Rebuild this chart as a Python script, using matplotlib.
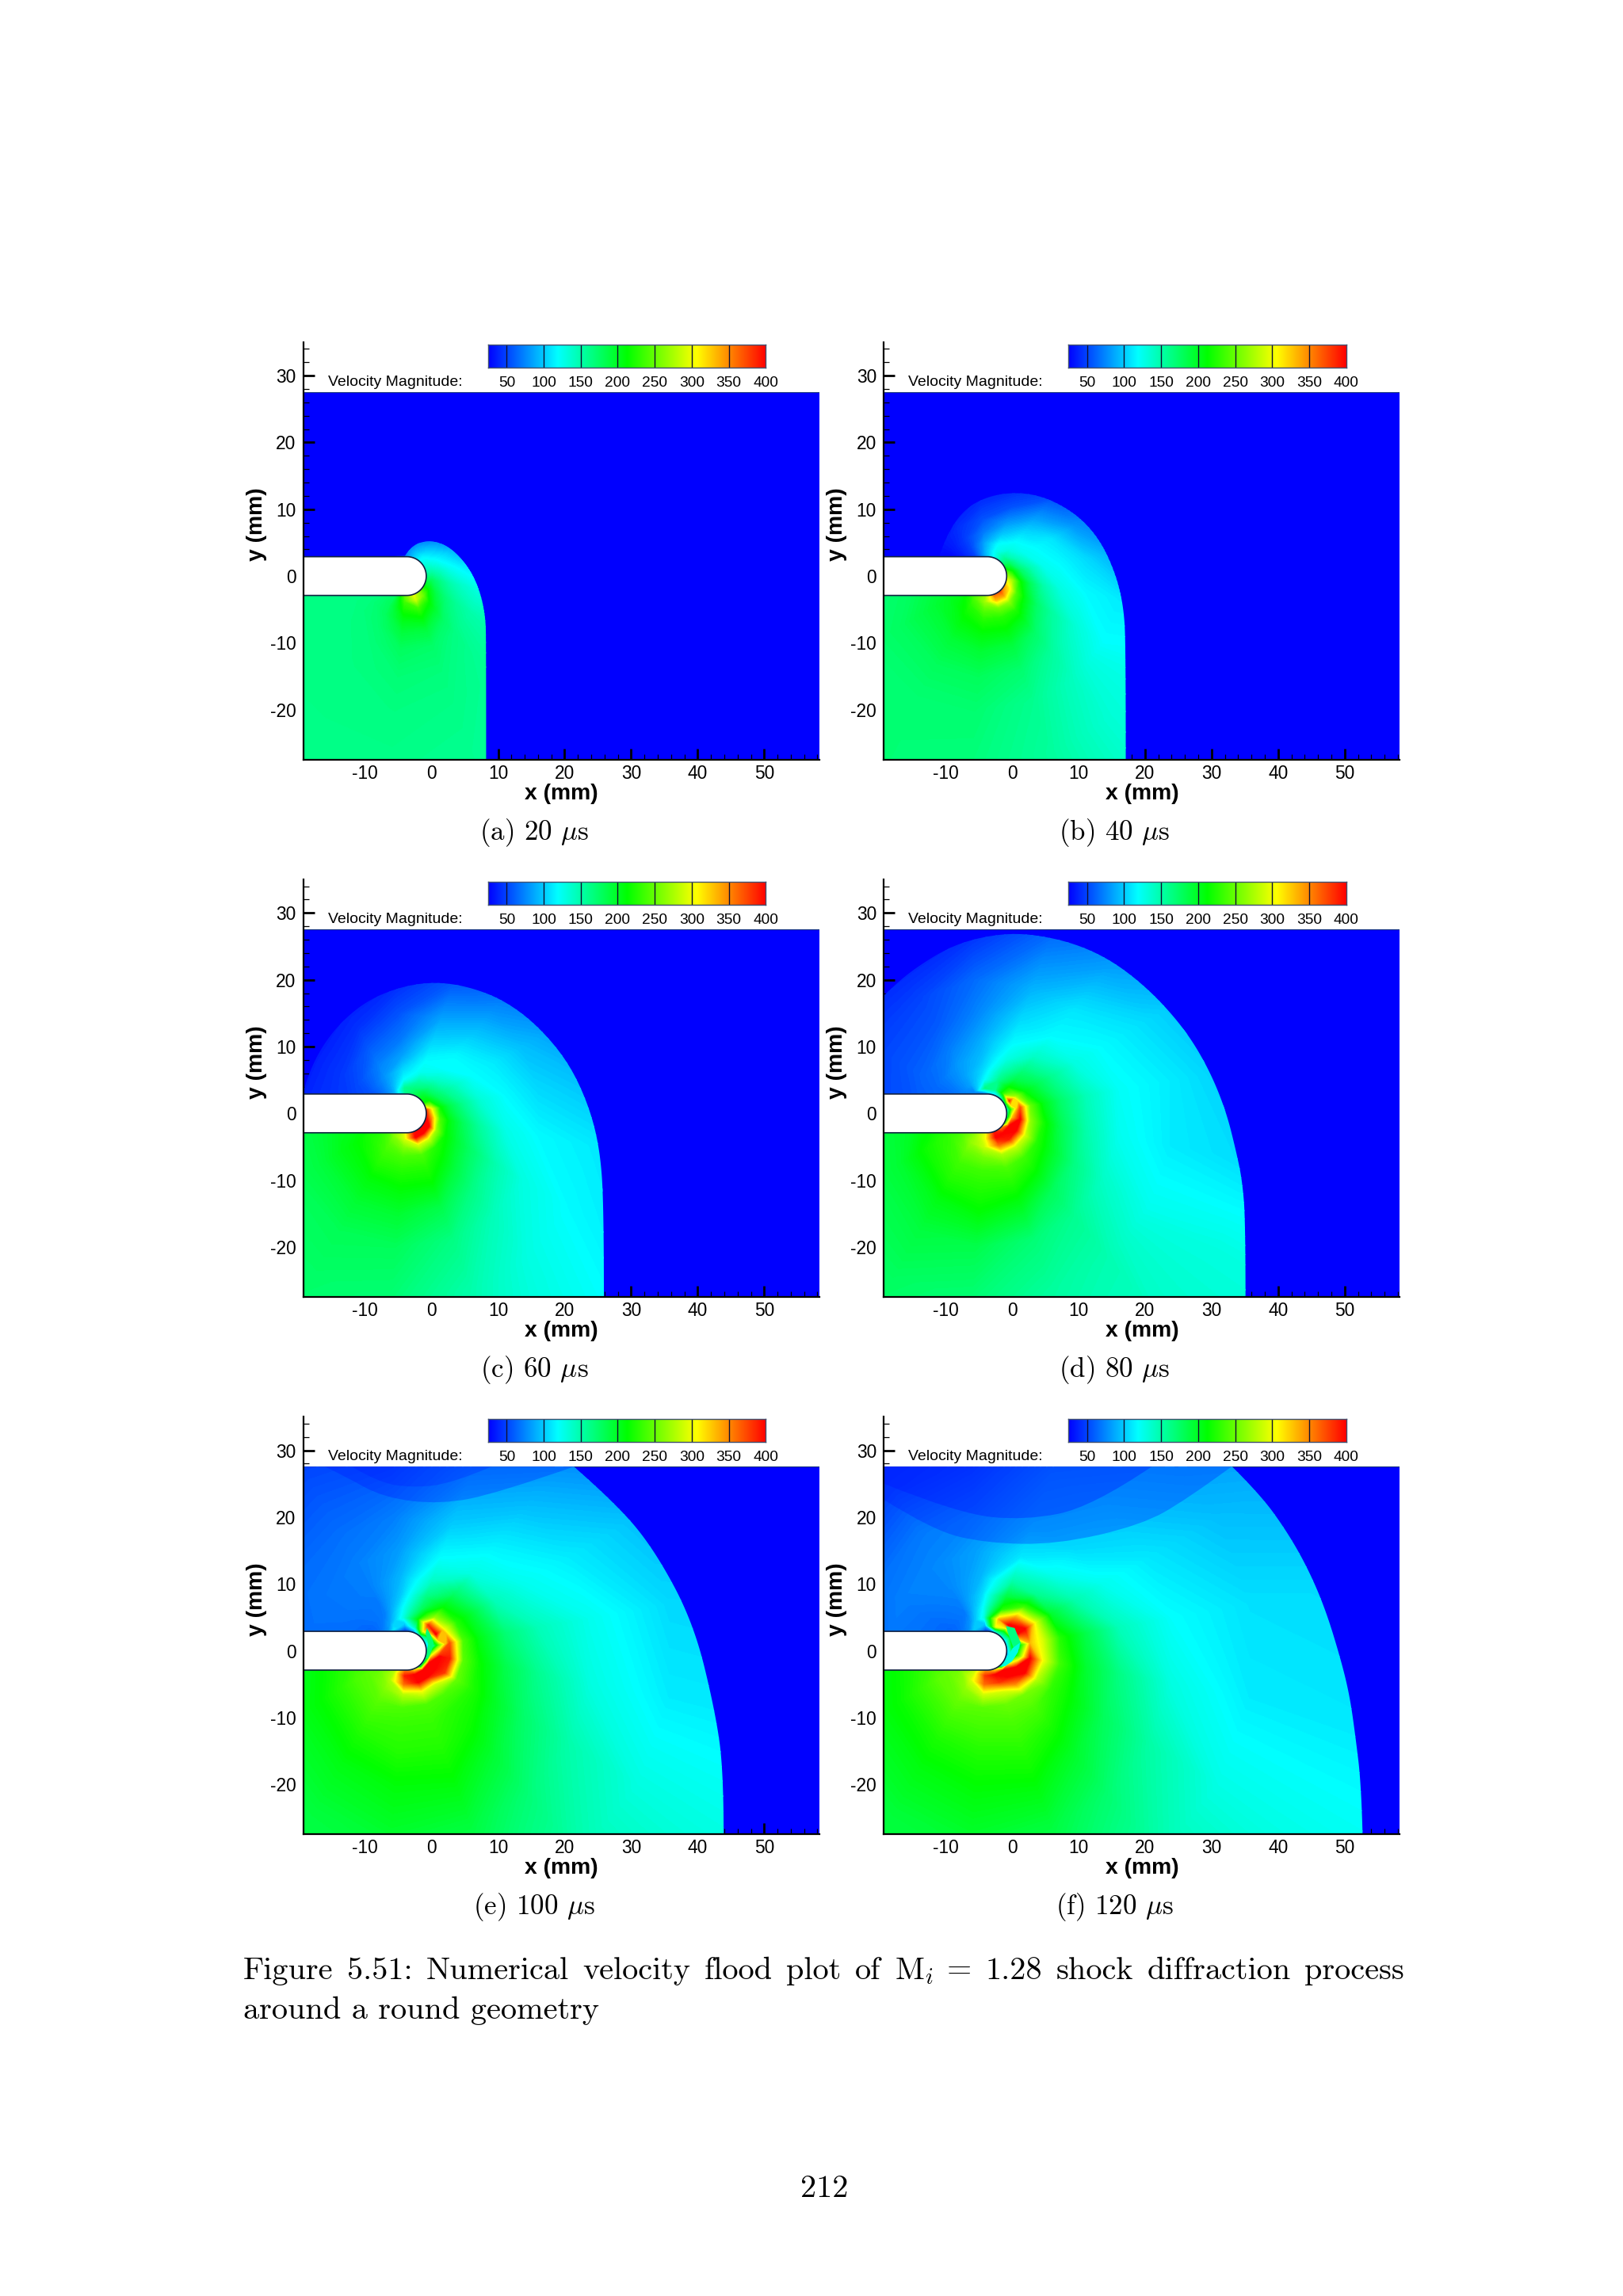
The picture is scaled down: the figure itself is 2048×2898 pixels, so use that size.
import numpy as np
import matplotlib
matplotlib.use("Agg")
import matplotlib.pyplot as plt
from matplotlib.colors import LinearSegmentedColormap
from matplotlib.path import Path
from matplotlib.patches import PathPatch, Polygon, Rectangle

W, H = 2048, 2898
plt.rcParams['font.family'] = ['Liberation Sans', 'DejaVu Sans']
plt.rcParams['axes.unicode_minus'] = False
plt.rcParams['mathtext.fontset'] = 'cm'

CAPTIONS = ["(a) 20 $\\mu$s", "(b) 40 $\\mu$s", "(c) 60 $\\mu$s",
            "(d) 80 $\\mu$s", "(e) 100 $\\mu$s", "(f) 120 $\\mu$s"]
CBAR_TICKS = [50, 100, 150, 200, 250, 300, 350, 400]
VMIN, VMAX = 25, 400

# polar sampling nodes about the round tip: ray angle (deg), ring radius (mm)
RAYS = [-180, -150, -120, -95, -70, -50, -30, -10, 10, 30, 50, 70, 95, 120, 150, 180]
RINGS = [2.9, 3.8, 5, 6.5, 8.5, 11, 15, 20, 28, 40, 85]

# velocity magnitude: one line per ray, one column per ring
V_A = [[165,165,165,165,165,165,165,165,163,163,163],
       [165,165,165,166,166,165,165,165,163,163,163],
       [178,178,180,178,172,168,166,165,163,163,163],
       [250,235,220,205,190,178,170,166,163,163,163],
       [300,285,235,212,190,175,168,164,160,160,160],
       [260,250,215,195,175,165,160,158,155,155,155],
       [210,205,185,170,158,150,148,150,150,150,150],
       [180,178,165,150,138,128,125,125,125,125,125],
       [150,150,140,125,112,100,95,90,90,90,90],
       [135,130,118,105,85,60,45,30,30,30,30],
       [120,115,100,80,60,35,30,30,30,30,30],
       [100,95,80,60,35,30,30,30,30,30,30],
       [70,70,40,28,25,25,25,25,25,25,25],
       [30,30,25,25,25,25,25,25,25,25,25],
       [25,25,25,25,25,25,25,25,25,25,25],
       [25,25,25,25,25,25,25,25,25,25,25]]
V_B = [[185,185,185,185,185,178,172,170,170,170,170],
       [200,200,200,200,195,188,178,172,170,170,170],
       [240,240,225,215,205,192,180,172,170,170,170],
       [270,270,245,225,210,195,180,172,168,168,168],
       [360,330,255,225,210,190,172,160,155,155,155],
       [375,340,265,225,200,175,155,142,135,135,135],
       [340,310,240,205,175,155,135,120,125,125,125],
       [300,270,215,180,150,130,118,112,110,110,110],
       [250,215,175,150,125,118,105,85,80,80,80],
       [190,175,145,125,118,110,80,60,40,40,40],
       [150,150,130,120,105,85,55,35,30,30,30],
       [120,125,120,100,80,55,35,28,25,25,25],
       [90,90,85,70,55,42,28,25,25,25,25],
       [50,50,50,48,42,32,28,25,25,25,25],
       [28,28,28,28,30,28,26,25,25,25,25],
       [25,25,25,25,26,26,26,25,25,25,25]]
V_C = [[200,200,200,200,200,198,190,182,176,175,175],
       [220,220,220,220,212,205,190,180,175,172,172],
       [260,260,245,235,225,210,195,182,175,170,170],
       [300,290,260,238,225,212,195,180,170,165,165],
       [390,400,290,240,225,212,185,165,150,140,140],
       [400,400,290,225,210,190,165,145,130,125,125],
       [400,400,270,215,195,175,150,130,118,110,110],
       [400,340,240,205,180,155,128,118,112,105,105],
       [380,300,215,185,160,135,118,105,95,85,85],
       [220,210,180,160,140,120,112,95,75,50,50],
       [200,190,165,140,120,118,100,78,50,35,35],
       [180,170,150,125,118,105,85,60,35,30,30],
       [160,160,120,105,85,70,55,38,25,25,25],
       [90,90,85,80,72,60,42,32,25,25,25],
       [55,55,55,55,52,46,38,28,25,25,25],
       [48,48,48,48,46,44,40,30,25,25,25]]
V_D = [[205,205,205,205,205,200,192,182,176,172,172],
       [230,230,230,230,225,215,195,185,178,172,172],
       [265,265,265,250,235,225,205,190,178,170,170],
       [300,300,285,255,235,225,210,185,170,155,155],
       [390,400,360,275,240,225,200,170,155,145,145],
       [350,400,390,285,235,215,180,160,148,140,140],
       [200,400,400,290,225,200,165,140,125,130,130],
       [140,330,400,265,220,185,150,125,112,105,105],
       [120,250,370,250,205,175,145,122,112,95,95],
       [130,380,270,210,185,160,130,118,105,85,85],
       [120,230,215,185,165,140,118,110,85,60,60],
       [100,160,165,150,130,118,105,90,65,40,40],
       [60,165,118,105,95,88,75,65,38,30,30],
       [75,75,85,85,82,72,58,50,30,28,28],
       [65,65,65,65,65,62,55,48,38,30,30],
       [58,58,58,60,58,56,52,48,42,35,30]]
V_E = [[225,225,225,225,225,218,205,195,185,180,178],
       [245,245,245,245,240,228,212,200,188,182,178],
       [280,280,275,260,245,235,220,205,190,182,178],
       [350,390,360,280,240,232,225,210,195,182,178],
       [300,400,400,300,240,232,225,212,190,170,165],
       [120,400,400,290,240,225,215,195,170,150,145],
       [100,400,400,380,250,225,200,175,150,130,128],
       [100,300,400,390,245,215,185,160,130,112,110],
       [100,130,250,370,240,205,170,145,125,105,95],
       [120,170,400,300,225,195,145,125,112,95,70],
       [130,300,380,265,210,175,130,115,95,70,50],
       [70,150,210,180,165,140,118,100,80,55,40],
       [40,90,130,118,100,92,82,72,55,40,30],
       [50,110,85,72,70,72,72,66,55,38,30],
       [60,60,60,62,66,68,68,65,55,40,30],
       [55,55,55,58,60,62,65,62,52,40,30]]
V_F = [[230,230,230,230,230,222,210,200,190,182,178],
       [250,250,250,250,245,232,215,203,190,182,178],
       [290,290,290,265,250,238,222,208,192,183,178],
       [340,380,360,290,245,238,225,212,196,182,178],
       [300,400,380,290,250,240,228,214,190,170,165],
       [90,400,400,350,255,240,220,198,172,150,145],
       [80,300,400,400,280,230,208,180,152,128,125],
       [80,150,260,400,300,235,195,165,130,112,108],
       [90,200,200,330,290,225,185,145,120,108,100],
       [100,170,400,400,290,195,150,125,110,95,70],
       [120,200,400,340,235,160,125,105,95,80,55],
       [60,300,330,225,190,150,110,95,85,65,40],
       [40,90,130,120,105,92,85,75,55,42,30],
       [70,100,80,70,72,75,75,70,50,38,30],
       [62,62,62,62,65,68,72,65,48,38,30],
       [55,55,55,58,62,65,68,60,48,38,30]]
FIELDS = [V_A, V_B, V_C, V_D, V_E, V_F]

# shock front outlines (mm)
FRONT_A_X = [8.2, 8.2, 8.1, 7.2, 5.5, 2.6, -0.3, -3.0, -4.0]
FRONT_A_Y = [-27.5, -10, -6, -2, 1.5, 4.5, 5.4, 4.6, 3.0]
FRONT_B_X = [17.1, 17.1, 16.8, 15.6, 13.2, 9.7, 4.9, 0.35, -4.2, -7.7, -10.2, -10.9]
FRONT_B_Y = [-27.5, -10.5, -4.7, 0.3, 5.5, 9.3, 11.9, 12.6, 11.8, 9.5, 5.3, 3.0]
FRONT_C_X = [25.9, 25.9, 25.3, 23.6, 20.5, 15.8, 10.8, 5.5, 0.45, -4.5, -9.5, -13.5, -16.5, -18.5, -19.25]
FRONT_C_Y = [-27.5, -13.7, -5.3, 1.3, 7.8, 13.3, 17.0, 19.0, 19.7, 19.0, 17.0, 13.8, 10.0, 5.9, 3.4]
FRONT_D_X = [35.1, 35.1, 34.6, 33.7, 32.2, 29.8, 26.6, 22.6, 18.6, 14.67, 10.5, 6.0, 0.85, -4.2, -9.2, -14.2, -17.7, -19.25]
FRONT_D_Y = [-27.5, -16, -10, -5.7, 0.26, 6.2, 11.7, 16.5, 20.2, 23.0, 25.0, 26.3, 27.0, 26.5, 25.0, 22.0, 19.2, 17.6]
FRONT_E_X = [43.9, 43.9, 42.6, 39.4, 33.7, 28.0, 21.4]
FRONT_E_Y = [-27.5, -18, -8.9, 4.1, 14.8, 21.8, 27.55]
FRONT_F_X = [52.7, 52.5, 51.6, 50.8, 49.6, 47.2, 44.5, 41.3, 37.3, 33.1]
FRONT_F_Y = [-27.5, -20, -12.6, -7.0, -1.9, 6.0, 12.3, 17.9, 23.4, 27.55]
FRONTS = [(FRONT_A_X, FRONT_A_Y), (FRONT_B_X, FRONT_B_Y), (FRONT_C_X, FRONT_C_Y),
          (FRONT_D_X, FRONT_D_Y), (FRONT_E_X, FRONT_E_Y), (FRONT_F_X, FRONT_F_Y)]

# reflected wave at the upper boundary: low-speed cap outlines (mm), outer and inner
CAP_E_X = [21.4, 10.0, 1.4, -7.2, -13.0, -16.0]
CAP_E_Y = [27.55, 23.6, 21.9, 22.9, 26.1, 27.55]
CORE_E_X = [9.0, 3.0, -3.0, -8.0, -12.0]
CORE_E_Y = [27.55, 25.0, 24.4, 25.2, 27.55]
CAP_F_X = [33.0, 26.2, 19.4, 6.8, -3.9, -11.9, -19.25]
CAP_F_Y = [27.55, 22.6, 18.8, 15.9, 16.1, 18.0, 22.6]
CORE_F_X = [21.0, 12.0, 2.0, -8.0, -19.25]
CORE_F_Y = [27.55, 21.5, 19.5, 20.5, 25.0]
CAPS = [[], [], [], [], [(CAP_E_X, CAP_E_Y, 0.3), (CORE_E_X, CORE_E_Y, 0.25)],
        [(CAP_F_X, CAP_F_Y, 0.3), (CORE_F_X, CORE_F_Y, 0.35)]]

# low-speed streaks hugging the tip: outline (mm) and speed
STREAK_E = ([-0.7, -0.1, 0.3, 0.0, -0.6, -0.9, -0.5, -0.9], [3.4, 2.3, 1.2, 0.0, -1.3, -0.9, 1.0, 2.6], 170)
STREAK_F1 = ([-0.9, 0.4, 1.3, 1.1, 0.2, -0.7], [3.7, 3.4, 1.2, 0.2, 0.5, 2.9], 165)
STREAK_F2 = ([1.2, 0.9, 0.0, -1.0, -1.7, -0.7, 0.1], [1.2, -0.2, -1.6, -2.3, -2.4, -1.0, 0.4], 130)
STREAKS = [[], [], [], [], [STREAK_E], [STREAK_F1, STREAK_F2]]

XLIM = (-19.25, 58.3)
YLIM = (-27.5, 35.0)
FIELD_TOP = 27.55
TIP_X, BODY_R = -3.7, 2.9

cmap = LinearSegmentedColormap.from_list(
    "rainbow5", ["#0000ff", "#00ffff", "#00ff00", "#ffff00", "#ff0000"], N=512)
levels = np.linspace(VMIN, VMAX, 190)


def px_axes(x0, y0, x1, y1):
    return fig.add_axes([x0 / W, 1 - y1 / H, (x1 - x0) / W, (y1 - y0) / H])


def smooth_open(xs, ys):
    verts = [(xs[0], ys[0])]
    codes = [Path.MOVETO]
    for i in range(1, len(xs) - 1):
        end = (xs[i + 1], ys[i + 1]) if i == len(xs) - 2 else \
              ((xs[i] + xs[i + 1]) / 2, (ys[i] + ys[i + 1]) / 2)
        verts += [(xs[i], ys[i]), end]
        codes += [Path.CURVE3, Path.CURVE3]
    return verts, codes


def front_path(xs, ys):
    verts, codes = smooth_open(xs, ys)
    verts += [(XLIM[0], ys[-1]), (XLIM[0], YLIM[0]), (xs[0], YLIM[0]), (xs[0], ys[0])]
    codes += [Path.LINETO, Path.LINETO, Path.LINETO, Path.CLOSEPOLY]
    return Path(np.array(verts), codes)


def cap_path(xs, ys):
    verts, codes = smooth_open(xs, ys)
    if ys[-1] < FIELD_TOP:
        verts += [(XLIM[0], FIELD_TOP)]
        codes += [Path.LINETO]
    verts += [(xs[0], ys[0])]
    codes += [Path.CLOSEPOLY]
    return Path(np.array(verts), codes)


def flat(path, fine=20):
    # clip paths are rasterised from their vertices, so curves are flattened first
    out = [path.vertices[0]]
    i = 1
    v, c = path.vertices, path.codes
    while i < len(v):
        if c[i] == Path.CURVE3:
            p0, p1, p2 = out[-1], v[i], v[i + 1]
            for t in np.linspace(0, 1, fine)[1:]:
                out.append((1 - t) ** 2 * p0 + 2 * t * (1 - t) * p1 + t ** 2 * p2)
            i += 2
        else:
            out.append(v[i])
            i += 1
    return Path(np.array(out), closed=True)


def body_path():
    a = np.radians(np.linspace(-90, 90, 61))
    xs = np.r_[XLIM[0], TIP_X + BODY_R * np.cos(a), XLIM[0]]
    ys = np.r_[-BODY_R, BODY_R * np.sin(a), BODY_R]
    return xs, ys


fig = plt.figure(figsize=(W / 200, H / 200), dpi=200, facecolor="white")

for k in range(6):
    col, row = k % 2, k // 2
    dx, dy = col * 732.4, row * 678.2
    ax = px_axes(383 + dx, 432 + dy, 1034 + dx, 959 + dy)
    ax.set_xlim(*XLIM)
    ax.set_ylim(*YLIM)
    ax.add_patch(Rectangle((XLIM[0], YLIM[0]), XLIM[1] - XLIM[0], FIELD_TOP - YLIM[0],
                           fc="#0000ff", ec="none", zorder=1))
    ax.plot(XLIM, [FIELD_TOP, FIELD_TOP], color="#103080", lw=0.4, zorder=1.5)

    th = np.radians(RAYS)[:, None]
    rr = np.array(RINGS)[None, :]
    X = TIP_X + rr * np.cos(th)
    Y = rr * np.sin(th)
    cs = ax.contourf(X, Y, np.array(FIELDS[k], float), levels=levels, cmap=cmap,
                     vmin=VMIN, vmax=VMAX, extend="both", zorder=2)
    clip = PathPatch(flat(front_path(*FRONTS[k])), transform=ax.transData, fc="none", ec="none")
    ax.add_patch(clip)
    cs.set_clip_path(clip)

    for cx, cy, a in CAPS[k]:
        ax.add_patch(PathPatch(cap_path(cx, cy), fc=cmap(0.02), ec="none", alpha=a, zorder=2.5))
    for sx, sy, sv in STREAKS[k]:
        ax.add_patch(Polygon(np.c_[sx, sy], closed=True, ec="none",
                             fc=cmap((sv - VMIN) / (VMAX - VMIN)), zorder=2.6))

    bx, by = body_path()
    ax.fill(bx, by, color="white", zorder=3, lw=0)
    ax.plot(bx, by, color="#102040", lw=0.6, zorder=3.1)

    for s in ("top", "right"):
        ax.spines[s].set_visible(False)
    for s in ("left", "bottom"):
        ax.spines[s].set_linewidth(0.8)
        ax.spines[s].set_zorder(5)
    ax.set_xticks(range(-10, 51, 10))
    ax.set_yticks(range(-20, 31, 10))
    ax.set_xticks(range(-18, 59, 2), minor=True)
    ax.set_yticks(range(-26, 35, 2), minor=True)
    ax.tick_params(which="major", direction="in", length=5.2, width=1.0, labelsize=8.2)
    ax.tick_params(which="minor", direction="in", length=2.6, width=0.45)
    ax.tick_params(axis="x", which="major", pad=2.0)
    ax.tick_params(axis="y", which="major", pad=3.4)
    for t in ax.get_xticklines(minor=True) + ax.get_xticklines() + ax.get_yticklines() + ax.get_yticklines(minor=True):
        t.set_zorder(6)
    ax.set_xlabel("x (mm)", fontsize=10.2, fontweight="bold", va="center")
    ax.set_ylabel("y (mm)", fontsize=10.2, fontweight="bold", va="center")
    ax.xaxis.set_label_coords(0.5, (959 - 1002) / 527)
    ax.yaxis.set_label_coords((324 - 383) / 651, (959 - 662) / 527)

    cb = px_axes(616 + dx, 434.7 + dy, 966.2 + dx, 463.8 + dy)
    cb.imshow(np.linspace(VMIN, VMAX, 512)[None, :], aspect="auto", cmap=cmap,
              vmin=VMIN, vmax=VMAX, extent=(VMIN, VMAX, 0, 1))
    cb.vlines(CBAR_TICKS[:-1], 0, 1, color="#101030", lw=0.5)
    cb.set_yticks([])
    cb.set_xticks(CBAR_TICKS)
    cb.tick_params(axis="x", length=0, pad=4.0, labelsize=6.9)
    for sp in cb.spines.values():
        sp.set_linewidth(0.5)
        sp.set_color("#405070")
    fig.text((413.6 + dx) / W, 1 - (482.5 + dy) / H, "Velocity Magnitude:",
             fontsize=7.0, ha="left", va="center")
    fig.text((674 + dx) / W, 1 - (1051 + dy) / H, CAPTIONS[k], family="cmr10",
             fontsize=12.6, ha="center", va="center")

# caption, set justified between the text margins
LINE_1 = ["Figure", "5.51:", "Numerical", "velocity", "flood", "plot", "of", "M$_i$", "=",
          "1.28", "shock", "diffraction", "process"]
CAP_FS = 14.5
L_MARGIN, R_MARGIN = 307.0, 1772.0
renderer = fig.canvas.get_renderer()
texts = [fig.text(L_MARGIN / W, 1 - 2498 / H, w, family="cmr10", fontsize=CAP_FS,
                  ha="left", va="baseline") for w in LINE_1]
widths = [t.get_window_extent(renderer).width for t in texts]
gap = (R_MARGIN - L_MARGIN - sum(widths)) / (len(LINE_1) - 1)
pos = L_MARGIN
for t, w in zip(texts, widths):
    t.set_x(pos / W)
    pos += w + gap
fig.text(L_MARGIN / W, 1 - 2548 / H, "around a round geometry", family="cmr10",
         fontsize=CAP_FS, ha="left", va="baseline")
fig.text(1040 / W, 1 - 2763 / H, "212", family="cmr10", fontsize=CAP_FS,
         ha="center", va="center")

fig.savefig("out.png", dpi=200, facecolor="white")
